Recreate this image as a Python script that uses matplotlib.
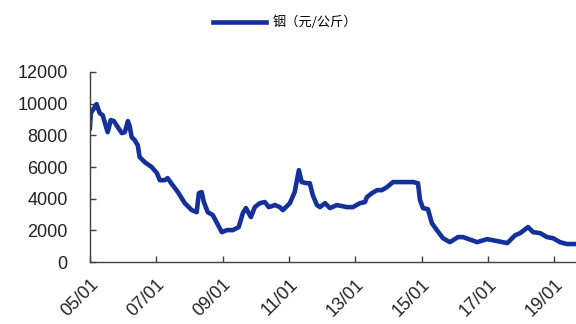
import pandas as pd
import matplotlib.pyplot as plt
import matplotlib.dates as mdates

plt.rcParams['font.family'] = ['Liberation Sans', 'Noto Sans CJK SC', 'DejaVu Sans']

# 铟价格 (元/公斤)
dates = ['2005-01-01', '2005-01-12', '2005-03-16', '2005-04-19', '2005-05-22',
         '2005-07-16', '2005-08-19', '2005-09-22', '2005-11-04', '2005-12-19',
         '2006-01-21', '2006-02-24', '2006-03-15', '2006-04-06', '2006-05-09',
         '2006-06-12', '2006-07-03', '2006-08-28', '2006-11-12', '2007-01-09',
         '2007-02-10', '2007-04-06', '2007-05-07', '2007-07-01', '2007-08-28',
         '2007-11-12', '2008-01-28', '2008-03-22', '2008-04-15', '2008-05-16',
         '2008-06-09', '2008-07-22', '2008-09-15', '2008-11-01', '2008-12-24',
         '2009-02-18', '2009-04-24', '2009-06-28', '2009-08-12', '2009-09-15',
         '2009-11-09', '2009-12-22', '2010-02-15', '2010-04-12', '2010-05-25',
         '2010-08-01', '2010-09-24', '2010-10-27', '2011-01-12', '2011-03-06',
         '2011-04-21', '2011-05-22', '2011-07-18', '2011-08-19', '2011-09-21',
         '2011-11-06', '2011-12-09', '2012-02-03', '2012-03-28', '2012-06-12',
         '2012-10-01', '2012-12-06', '2013-02-21', '2013-04-18', '2013-05-09',
         '2013-07-03', '2013-08-28', '2013-10-21', '2013-12-15', '2014-02-21',
         '2014-05-06', '2014-07-24', '2014-09-28', '2014-11-22', '2014-12-15',
         '2015-01-16', '2015-03-12', '2015-04-24', '2015-06-18', '2015-08-24',
         '2015-11-09', '2016-02-06', '2016-04-01', '2016-09-03', '2016-12-22',
         '2017-04-10', '2017-08-01', '2017-10-28', '2017-12-22', '2018-03-18',
         '2018-05-13', '2018-07-28', '2018-10-13', '2018-12-18', '2019-03-04',
         '2019-05-21', '2019-08-28']
price = [8450, 9400, 9970, 9400, 9270,
         8200, 8960, 8900, 8520, 8140,
         8200, 8900, 8580, 7890, 7700,
         7380, 6630, 6310, 6000, 5620,
         5170, 5170, 5300, 4860, 4420,
         3720, 3280, 3150, 4350, 4420,
         3790, 3150, 2970, 2460, 1890,
         2020, 2020, 2210, 3090, 3410,
         2840, 3470, 3720, 3790, 3470,
         3600, 3470, 3280, 3720, 4420,
         5800, 5050, 4980, 4980, 4230,
         3600, 3470, 3720, 3410, 3600,
         3470, 3470, 3720, 3790, 4100,
         4350, 4540, 4540, 4730, 5050,
         5050, 5050, 5050, 4980, 3910,
         3410, 3340, 2460, 2020, 1510,
         1260, 1580, 1580, 1260, 1450,
         1330, 1200, 1700, 1830, 2210,
         1890, 1830, 1580, 1510, 1260,
         1140, 1140]

yticks = [0, 2000, 4000, 6000, 8000, 10000, 12000]
xtick_years = [2005, 2007, 2009, 2011, 2013, 2015, 2017, 2019]

x = pd.to_datetime(dates)

fig = plt.figure(figsize=(5.76, 3.24), dpi=100)
ax = fig.add_axes([0.156, 0.191, 0.844, 0.587])

ax.plot(x, price, color='#14309a', linewidth=3.3, solid_joinstyle='round',
        label='铟（元/公斤）')

ax.set_ylim(0, 12000)
ax.set_yticks(yticks)
ax.set_xlim(x[0], x[-1])
ax.set_xticks(pd.to_datetime([f'{y}-01-01' for y in xtick_years]))
ax.xaxis.set_major_formatter(mdates.DateFormatter('%y/%m'))

for side in ['top', 'right']:
    ax.spines[side].set_visible(False)
for side in ['left', 'bottom']:
    ax.spines[side].set_color('#404040')
    ax.spines[side].set_linewidth(1)

ax.tick_params(direction='in', length=4, width=1, color='#404040',
               labelsize=13, labelcolor='#222222')
ax.tick_params(axis='y', pad=16)
ax.tick_params(axis='x', pad=10)
for lab in ax.get_xticklabels():
    lab.set_rotation(45)
    lab.set_ha('right')
    lab.set_va('top')
    lab.set_rotation_mode('anchor')

fig.legend(loc='center', bbox_to_anchor=(0.495, 0.93), frameon=False,
           handlelength=4.0, handletextpad=0.5,
           prop={'family': ['Noto Sans CJK SC', 'DejaVu Sans'], 'size': 9.5})

fig.savefig('out.png', dpi=100)
